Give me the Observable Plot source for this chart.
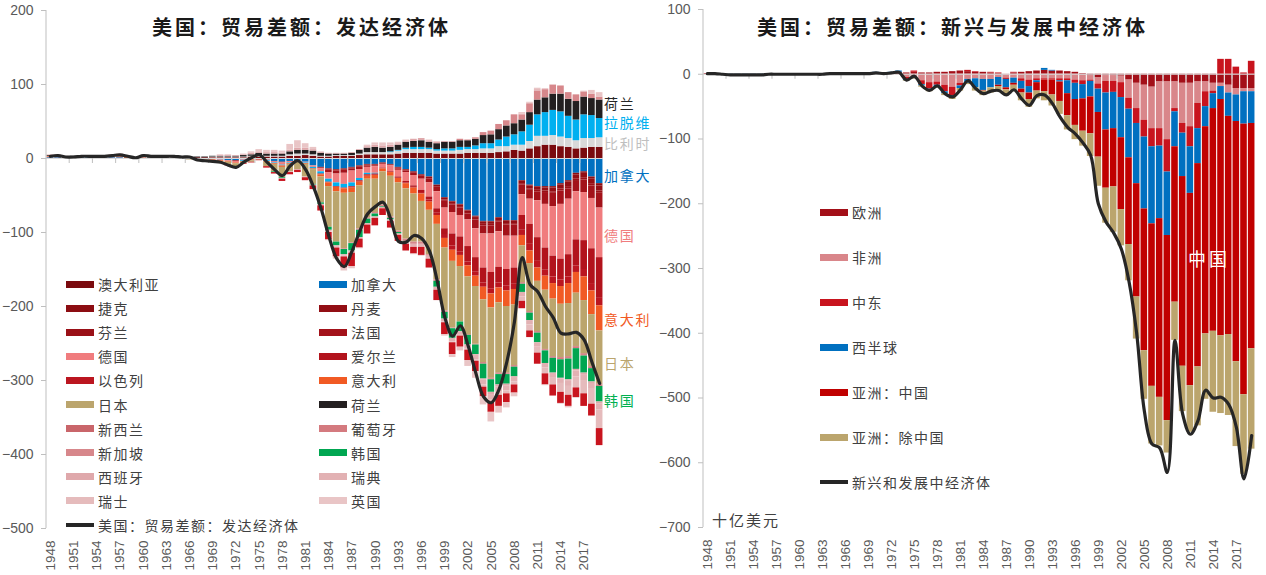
<!DOCTYPE html>
<html><head><meta charset="utf-8">
<script src="https://cdn.jsdelivr.net/npm/d3@7"></script>
<script src="https://cdn.jsdelivr.net/npm/@observablehq/plot@0.6"></script>
<style>
body{margin:0;background:#fff;}
#wrap{position:relative;width:1266px;height:575px;overflow:hidden;font-family:"Noto Sans CJK SC",sans-serif;background:#fff;}
.abs{position:absolute;white-space:nowrap;}
</style></head><body><div id="wrap"></div>
<script>
// ---------- categories ----------
const years = d3.range(1948, 2020);               // 1948 … 2019
const labelYears = d3.range(1948, 2018, 3);        // 1948, 1951, … 2017
const yTicksLeft = [200, 100, 0, -100, -200, -300, -400, -500];
const yTicksRight = [100, 0, -100, -200, -300, -400, -500, -600, -700];

// ---------- LEFT: developed economies (bn USD), 1948–2019 ----------
const AU = [0,0,0,0,0,0,0,0,0,0, 0,0,0,0,0,0,0,0,1,1, 1,1,
 1,1,1,1,2,2,2,2,2,3, 3,4,3,2,2,3,3,3,4,5, 5,5,5,6,7,7,7,7,6,6, 6,6,7,7,7,7,8,9,11,10, 13,16,18,18,16,15,13,14,15,15];
const BE = [0,0,0,0,0,0,0,0,0,0, 0,0,0,0,0,0,0,0,0,0, 0,1,
 1,1,1,1,1,1,1,1,1,2, 3,2,2,1,1,1,1,1,2,3, 3,3,3,4,5,5,5,5,4,4, 4,5,5,5,6,6,8,7,7,8, 10,14,12,13,13,12,11,13,12,13];
const CA = [1,1,0,1,1,1,1,1,1,1, 0,0,0,0,0,0,0,0,-1,-1, -1,-1,
 -2,-3,-3,-2,-1,1,-2,-4,-5,-4, -3,-5,-10,-12,-14,-15,-14,-12,-10,-8, -8,-6,-8,-12,-15,-18,-22,-25,-36,-53, -58,-62,-70,-78,-85,-85,-80,-84,-84,-30, -36,-38,-38,-38,-34,-30,-20,-18,-25,-34];
const CZ = [0,0,0,0,0,0,0,0,0,0, 0,0,0,0,0,0,0,0,0,0, 0,0,
 0,0,0,0,0,0,0,0,0,0, 0,0,0,0,0,0,0,0,0,0, 0,0,0,0,0,0,0,0,0,-1, -1,-1,-1,-1,-1,-1,-1,-1,-1,-1, -1,-1,-2,-2,-2,-2,-2,-2,-3,-3];
const DK = [0,0,0,0,0,0,0,0,0,0, 0,0,0,0,0,0,0,0,0,0, 0,0,
 0,0,0,0,0,0,0,0,0,0, 0,0,0,-1,-1,-1,-1,-1,-1,-1, -1,-1,-1,-1,-1,-1,-1,-2,-2,-2, -2,-2,-2,-2,-3,-3,-3,-3,-3,-3, -4,-4,-4,-5,-5,-6,-6,-6,-6,-7];
const FI = [0,0,0,0,0,0,0,0,0,0, 0,0,0,0,0,0,0,0,0,0, 0,0,
 0,0,0,0,0,0,0,0,0,0, 0,0,0,0,-1,-1,-1,-1,-1,-1, -1,-1,-1,-1,-1,-1,-1,-1,-1,-1, -2,-2,-2,-2,-2,-2,-2,-2,-2,-2, -2,-2,-2,-2,-3,-3,-3,-3,-3,-3];
const FR = [0,0,0,0,0,0,0,0,0,0, 0,0,0,0,0,0,0,0,0,0, 0,0,
 0,0,-1,0,0,0,0,0,-1,0, 0,0,0,-1,-3,-4,-4,-3,-3,-2, -1,0,0,-2,-2,-3,-4,-5,-6,-10, -10,-10,-8,-12,-11,-11,-13,-15,-15,-13, -12,-12,-16,-18,-18,-14,-14,-17,-17,-20];
const DE = [1,1,1,1,0,0,0,0,1,1, 0,0,1,0,0,0,0,0,0,0, -1,-1,
 -1,-1,-2,-1,-1,0,-1,-2,-3,-2, 0,-1,-2,-4,-9,-12,-15,-16,-12,-8, -9,-5,-8,-9,-12,-14,-15,-19,-23,-28, -29,-29,-36,-39,-46,-52,-48,-45,-43,-28, -34,-50,-59,-67,-74,-75,-65,-65,-68,-67];
const HK = [0,0,0,0,0,0,0,0,0,0, 0,0,0,0,0,0,0,0,0,0, 0,0,
 0,0,0,-1,0,0,-1,-1,-1,-1, -1,-1,-2,-3,-4,-5,-5,-5,-3,-2, -1,0,1,1,2,3,3,2,2,3, 3,4,3,5,7,7,9,13,14,18, 22,29,32,34,34,30,28,32,31,26];
const IE = [0,0,0,0,0,0,0,0,0,0, 0,0,0,0,0,0,0,0,0,0, 0,0,
 0,0,0,0,0,0,0,0,0,0, 0,0,0,0,0,0,0,-1,-1,-1, -1,-1,-1,-1,-2,-2,-3,-4,-6,-9, -16,-20,-21,-19,-20,-22,-21,-22,-22,-20, -27,-32,-30,-28,-28,-30,-35,-39,-47,-55];
const IL = [0,0,0,0,0,0,0,0,0,0, 0,0,0,0,0,0,0,0,0,0, 0,0,
 0,0,0,0,0,0,0,0,0,0, 0,0,0,-1,-1,-1,-1,-1,-1,-1, -1,0,0,-1,-1,-1,-2,-3,-3,-4, -6,-5,-5,-6,-6,-7,-7,-7,-7,-7, -9,-9,-8,-9,-9,-9,-9,-10,-10,-10];
const IT = [1,1,0,0,0,0,0,1,1,1, 1,0,0,0,0,0,0,0,0,0, 0,-1,
 -1,-1,-1,-1,-1,0,-1,-1,-2,-1, -1,-1,-1,-3,-5,-6,-6,-6,-5,-4, -5,-4,-5,-6,-7,-8,-10,-11,-12,-13, -15,-15,-15,-14,-17,-19,-20,-21,-21,-14, -17,-18,-19,-21,-24,-27,-28,-32,-32,-34];
const JP = [0,0,0,0,1,1,1,0,0,1, 0,0,1,0,0,0,0,-1,-1,-1, -1,-1,
 -2,-4,-5,-2,-2,-2,-6,-10,-14,-10, -10,-17,-20,-35,-55,-68,-75,-68,-58,-52, -45,-45,-55,-65,-68,-65,-55,-60,-75,-85, -90,-75,-78,-78,-85,-95,-95,-90,-82,-50, -65,-68,-80,-78,-72,-72,-72,-72,-70,-72];
const NL = [1,1,1,1,1,1,1,1,1,1, 1,1,1,1,1,1,1,1,1,1, 1,1,
 1,1,1,2,2,3,3,3,3,4, 5,5,5,4,3,2,2,3,5,6, 7,6,6,7,8,8,9,8,8,9, 9,9,9,9,11,12,14,15,15,16, 17,20,20,22,24,23,25,24,23,25];
const NZ = [0,0,0,0,0,0,0,0,0,0, 0,0,0,0,0,0,0,0,0,0, 0,0,
 0,0,0,0,0,0,0,0,0,0, 0,0,0,0,0,0,0,0,0,0, 0,0,0,0,0,0,0,0,0,0, 0,0,0,0,-1,-1,-1,-1,-1,-1, -1,-1,-1,-1,-1,-1,-1,-1,-1,-1];
const PT = [0,0,0,0,0,0,0,0,0,0, 0,0,0,0,0,0,0,0,0,0, 0,0,
 0,0,0,0,0,0,0,0,0,0, 0,0,0,0,0,0,0,0,0,0, 0,0,0,0,0,0,0,0,0,0, 0,0,-1,-1,-1,-1,-1,-1,-1,-1, -1,-1,-1,-1,-2,-2,-2,-2,-2,-2];
const SG = [0,0,0,0,0,0,0,0,0,0, 0,0,0,0,0,0,0,0,0,0, 0,0,
 0,0,0,0,0,0,0,0,0,0, 0,0,0,0,0,0,-1,-1,-2,-2, -2,-2,-2,-2,-3,-3,-3,-2,-2,-2, -1,2,1,2,4,5,7,7,12,7, 11,12,11,12,11,9,9,7,6,4];
const KR = [0,0,0,0,0,0,0,0,0,0, 0,0,0,0,0,0,0,0,0,0, 0,0,
 0,0,0,0,0,0,0,-1,-1,0, 0,0,-1,-2,-4,-5,-7,-10,-10,-6, -4,-1,-2,-2,-1,0,0,0,-8,-9, -13,-13,-13,-13,-20,-17,-14,-13,-13,-11, -10,-13,-17,-20,-25,-28,-28,-23,-18,-21];
const ES = [0,0,0,0,0,0,0,0,0,0, 0,0,0,0,0,0,0,0,0,0, 0,0,
 1,1,1,1,2,2,2,2,1,2, 3,3,2,1,1,1,1,1,1,2, 3,3,3,2,2,3,3,2,2,1, 1,0,0,-1,-1,-3,-3,-2,-1,1, 2,2,1,0,-1,-2,-2,-2,-2,-3];
const SE = [0,0,0,0,0,0,0,0,0,0, 0,0,0,0,0,0,0,0,0,0, 0,0,
 0,0,0,0,0,0,0,0,-1,-1, -1,-1,-1,-2,-2,-2,-2,-2,-2,-2, -2,-2,-2,-2,-3,-3,-3,-3,-3,-4, -5,-5,-5,-6,-7,-7,-7,-7,-6,-6, -6,-6,-6,-6,-6,-7,-8,-8,-8,-8];
const CH = [0,0,0,0,0,0,0,0,0,0, 0,0,0,0,0,0,0,0,0,0, 0,0,
 0,0,0,0,0,0,0,0,0,0, 0,0,0,0,-1,-1,-1,-1,0,0, 0,0,0,0,0,-1,-1,-1,-1,-1, -1,-1,-2,-2,-3,-4,-4,-4,-4,-6, -8,-8,-8,-10,-12,-12,-15,-18,-20,-25];
const TW = [0,0,0,0,0,0,0,0,0,0, 0,0,0,0,0,0,0,0,0,0, 0,0,
 0,-1,-1,-1,-1,-1,-2,-2,-3,-3, -3,-4,-5,-7,-10,-12,-15,-18,-12,-12, -10,-9,-9,-8,-9,-9,-11,-12,-14,-16, -16,-15,-14,-14,-13,-13,-15,-12,-11,-10, -9,-15,-15,-15,-15,-15,-13,-17,-16,-23];
const UK = [1,1,1,0,1,1,1,1,1,1, 1,0,1,1,1,1,1,0,0,0, 0,0,
 1,1,0,1,2,3,3,3,3,8, 10,6,3,1,-1,-3,-4,-3,-1,2, 3,4,3,2,1,-1,-1,1,1,-2, -4,-5,-8,-9,-11,-13,-9,-7,-5,2, 1,2,-1,1,-1,-2,-1,1,5,6];
const lineDeveloped = [3,4,2,2,3,3,3,3,4,5, 3,1,4,3,3,3,3,2,2,-2, -3,-4,
 -5,-9,-12,-5,1,5,-5,-15,-23,-10, -3,-15,-38,-68,-105,-135,-146,-125,-98,-75, -65,-59,-82,-112,-113,-104,-108,-125,-165,-215, -240,-226,-253,-290,-322,-330,-312,-275,-220,-134, -170,-180,-200,-215,-236,-237,-235,-245,-275,-304];

const leftKeys   = ["澳大利亚","比利时","加拿大","捷克","丹麦","芬兰","法国","德国","拉脱维","爱尔兰","以色列","意大利","日本","荷兰","新西兰","葡萄牙","新加坡","韩国","西班牙","瑞典","瑞士","台湾","英国"];
const leftSeries = [AU, BE, CA, CZ, DK, FI, FR, DE, HK, IE, IL, IT, JP, NL, NZ, PT, SG, KR, ES, SE, CH, TW, UK];
const leftColors = ["#7a0a0e","#d9d9d9","#0070c0","#8c0d12","#920e14","#9a1017","#a3121a","#f07c7e","#00b0f0","#b2131c","#bb1620","#f15a24","#bba56d","#231f20","#c9656a","#d47a7f","#d7878b","#00a651","#dfa8ab","#e2b1b3","#e5bbbc","#c8141e","#e9c5c6"];
const leftLegend = ["澳大利亚","加拿大","捷克","丹麦","芬兰","法国","德国","爱尔兰","以色列","意大利","日本","荷兰","新西兰","葡萄牙","新加坡","韩国","西班牙","瑞典","瑞士","英国"];
const leftLineName = "美国：贸易差额：发达经济体";

// ---------- RIGHT: emerging & developing economies ----------
const EU = [1,1,0,0,0,0,0,0,0,0, 0,0,0,1,1,0,0,0,0,0, 0,0,
 1,1,1,2,2,3,2,2,3,3, 4,5,4,3,3,2,1,0,2,3, 4,5,6,5,5,4,3,1,-2,-5, -2,-2,-3,-9,-14,-17,-20,-12,-12,-12, -14,-14,-12,-12,-14,-14,-17,-22,-22,-22];
const AF = [0,0,0,0,0,0,0,0,0,0, 0,0,0,0,0,0,0,0,0,0, 0,0,
 0,0,-1,-1,-5,-6,-10,-13,-12,-17, -20,-14,-8,-7,-8,-8,-5,-6,-6,-7, -9,-7,-7,-7,-7,-7,-9,-10,-7,-10, -9,-9,-10,-28,-39,-54,-64,-72,-89,-41, -62,-67,-33,-15,-12,-5,-12,-10,-5,-5];
const ME = [0,0,0,0,0,0,0,0,0,0, 0,0,0,0,0,0,-1,-1,0,0, 0,0,
 1,1,1,1,-3,2,-6,-10,-5,-10, -13,-4,2,1,0,1,1,-2,1,-4, -10,-3,-2,-2,-3,-3,-5,-6,-2,-8, -18,-17,-23,-17,-23,-26,-28,-27,-50,-5, -15,-31,-39,-23,-4,23,23,11,2,20];
const WH = [0,0,0,-1,-1,-1,-1,-1,0,0, 0,0,0,0,0,0,0,0,0,0, 0,0,
 1,0,1,2,-2,-1,-2,-2,-2,-3, -2,-4,-6,-14,-17,-13,-12,-13,-8,-12, -10,-3,3,1,-2,-20,-25,-22,-24,-36, -57,-56,-62,-75,-93,-111,-119,-112,-98,-54, -67,-72,-54,-31,-23,-20,-36,-41,-50,-49];
const CN = [0,0,0,0,0,0,0,0,0,0, 0,0,0,0,0,0,0,0,0,0, 0,0,
 0,0,0,0,0,0,0,0,0,0, 0,0,0,0,-1,0,-2,-3,-3,-6, -10,-13,-18,-23,-30,-34,-40,-50,-57,-69, -90,-90,-111,-134,-175,-219,-251,-276,-286,-240, -293,-297,-314,-320,-344,-365,-337,-371,-418,-348];
const AX = [0,0,0,0,0,0,0,0,0,0, 0,0,0,0,0,0,0,0,0,0, 0,0,
 0,0,0,0,-1,-1,-2,-2,-2,-3, -4,-4,-2,-5,-7,-8,-8,-8,-10,-12, -12,-12,-14,-17,-20,-22,-22,-23,-35,-45, -54,-70,-56,-56,-65,-75,-89,-75,-50,-59, -70,-72,-91,-101,-125,-120,-125,-131,-123,-155];
const lineEmerging = [1,1,0,-1,-1,-1,-1,-1,0,0, 0,0,0,0,0,0,1,1,1,1, 1,1,
 2,1,2,3,-9,-3,-18,-25,-18,-30, -35,-24,-10,-22,-30,-26,-25,-32,-24,-38, -48,-33,-32,-45,-66,-82,-92,-106,-125,-200, -228,-245,-270,-320,-400,-520,-571,-577,-615,-411, -525,-556,-535,-488,-500,-499,-510,-545,-625,-558];

const rightKeys   = ["欧洲","非洲","中东","西半球","亚洲：中国","亚洲：除中国"];
const rightSeries = [EU, AF, ME, WH, CN, AX];
const rightColors = ["#a30f18","#d9868a","#c8141e","#0070c0","#c00000","#bba56d"];
const rightLineName = "新兴和发展中经济体";

// ---------- chart builder ----------
function frameMarks(ticksAt) {
  return (index, scales, values, dims) => {
    const g = d3.create("svg:g");
    const {marginLeft, marginTop, height, marginBottom} = dims;
    g.append("line").attr("x1", marginLeft).attr("x2", marginLeft)
      .attr("y1", marginTop).attr("y2", height - marginBottom).attr("stroke", "#bfbfbf");
    const x = scales.x, y = scales.y;
    const gap = (x.step() - x.bandwidth()) / 2;
    const y0 = y(0);
    for (const yr of ticksAt.slice(1)) {
      const xx = x(String(yr)) - gap;
      g.append("line").attr("x1", xx).attr("x2", xx).attr("y1", y0).attr("y2", y0 + 5).attr("stroke", "#bfbfbf");
    }
    return g.node();
  };
}

function panel({keys, series, colors, line, yDomain, yTicks, mLeft, mRight, mTop, mBottom}) {
  const rows = [];
  series.forEach((arr, si) => arr.forEach((v, i) => rows.push({year: String(years[i]), key: keys[si], v})));
  const lineRows = line.map((v, i) => ({year: String(years[i]), v}));
  return Plot.plot({
    width: 633, height: 575,
    marginLeft: mLeft, marginRight: mRight, marginTop: mTop, marginBottom: mBottom,
    style: {background: "transparent", overflow: "visible", fontFamily: "'Liberation Sans', Arial, sans-serif", color: "#595959"},
    x: {type: "band", domain: years.map(String), paddingInner: 0.14, paddingOuter: 0.07, axis: null},
    y: {domain: yDomain, axis: null},
    color: {domain: keys, range: colors},
    marks: [
      Plot.barY(rows, {x: "year", y: "v", fill: "key"}),
      Plot.ruleY([0], {stroke: "#d9d9d9", strokeWidth: 1}),
      frameMarks(labelYears),
      Plot.axisY({ticks: yTicks, tickSize: 5, tickPadding: 8, stroke: "#bfbfbf", fill: "#595959", fontSize: 14, label: null, style: {letterSpacing: "0.5px"}}),
      Plot.axisX({ticks: labelYears.map(String), tickRotate: -90, tickSize: 0, tickPadding: 12, fill: "#595959", fontSize: 13.5, label: null}),
      Plot.lineY(lineRows, {x: "year", y: "v", curve: "catmull-rom", stroke: "#262626", strokeWidth: 3.2})
    ]
  });
}

const wrap = document.getElementById("wrap");
function place(el, left, top) { el.style.left = left + "px"; el.style.top = top + "px"; wrap.appendChild(el); return el; }
function holder(left) { const d = document.createElement("div"); d.className = "abs"; d.style.width = "633px"; return place(d, left, 0); }

holder(0).appendChild(panel({keys: leftKeys, series: leftSeries, colors: leftColors, line: lineDeveloped,
  yDomain: [-500, 200], yTicks: yTicksLeft, mLeft: 46, mRight: 30, mTop: 10, mBottom: 47}));
holder(633).appendChild(panel({keys: rightKeys, series: rightSeries, colors: rightColors, line: lineEmerging,
  yDomain: [-700, 100], yTicks: yTicksRight, mLeft: 70, mRight: 11, mTop: 9, mBottom: 48}));

function text(str, left, cy, {size = 14, color = "#404040", spacing = 1.5, weight = 400, lh = size + 8} = {}) {
  const d = document.createElement("div");
  d.className = "abs";
  d.textContent = str;
  d.style.fontSize = size + "px";
  d.style.lineHeight = lh + "px";
  d.style.color = color;
  d.style.letterSpacing = spacing + "px";
  d.style.fontWeight = weight;
  return place(d, left, cy - lh / 2);
}
function swatch(left, cy, color, h = 7) {
  const d = document.createElement("div");
  d.className = "abs";
  d.style.width = "28px"; d.style.height = h + "px"; d.style.background = color;
  return place(d, left, cy - h / 2);
}

// titles
text("美国：贸易差额：发达经济体", 152, 27, {size: 20, color: "#1a1a1a", spacing: 3, weight: 700});
text("美国：贸易差额：新兴与发展中经济体", 757, 27, {size: 20, color: "#1a1a1a", spacing: 3, weight: 700});

// left legend (row-major, two columns)
const colorOf = k => leftColors[leftKeys.indexOf(k)];
leftLegend.forEach((k, i) => {
  const col = i % 2, row = Math.floor(i / 2);
  const cy = 284 + row * 24.1;
  const sx = col === 0 ? 66 : 319;
  swatch(sx, cy, colorOf(k));
  text(k, sx + 32, cy);
});
swatch(66, 284 + 10 * 24.1, "#262626", 3.5);
text(leftLineName, 98, 284 + 10 * 24.1);

// right legend
rightKeys.forEach((k, i) => {
  const cy = 212 + i * 45;
  swatch(820, cy, rightColors[i]);
  text(k, 852, cy);
});
swatch(820, 212 + 6 * 45, "#262626", 3.5);
text(rightLineName, 852, 212 + 6 * 45);

// series labels at right of left panel
const sideLabels = [
  ["荷兰", 103, "#262626"], ["拉脱维", 122, "#00b0f0"], ["比利时", 143, "#bfbfbf"],
  ["加拿大", 175, "#0070c0"], ["德国", 235, "#f07c7e"], ["意大利", 319, "#f15a24"],
  ["日本", 363, "#bba56d"], ["韩国", 400, "#00b050"]
];
sideLabels.forEach(([t, cy, c]) => text(t, 604, cy, {size: 14, color: c, spacing: 1.8, lh: 16}));

text("中国", 1188, 258, {size: 18, color: "#ffffff", spacing: 3});
text("十亿美元", 712, 519, {size: 15, color: "#404040", spacing: 2});
</script></body></html>
